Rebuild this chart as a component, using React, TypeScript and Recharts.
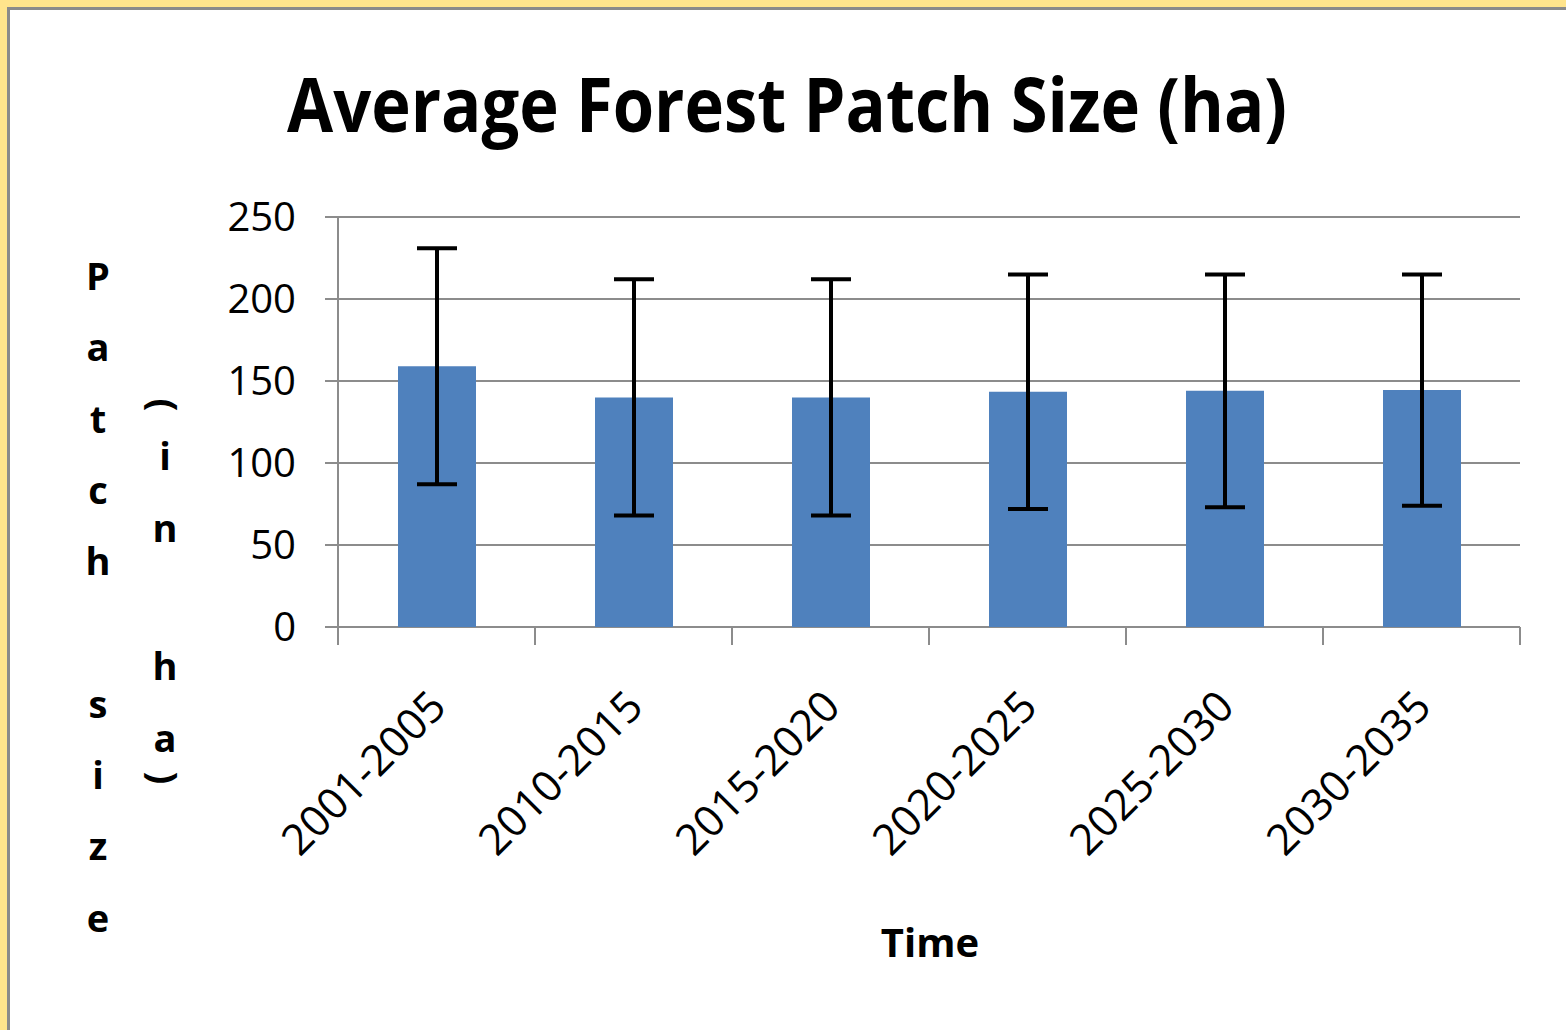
import { Bar, BarChart, CartesianGrid, ErrorBar, XAxis, YAxis } from 'recharts';

const periods = ['2001-2005', '2010-2015', '2015-2020', '2020-2025', '2025-2030', '2030-2035'];
const meanSize = [159, 140, 140, 143.5, 144, 144.5];
const errSize = [72, 72, 72, 71.5, 71, 70.5];
const yTicks = [0, 50, 100, 150, 200, 250];

const data = periods.map((period, i) => ({ period, mean: meanSize[i], err: errSize[i] }));

const FONT = '"Open Sans", "Noto Sans", sans-serif';
const GRID = '#8c8c8c';

// Excel puts the category tick marks between the bars, so draw them at band edges
function CategoryTick({ x, y, payload, index }: any) {
  const half = payload.offset || 0;
  const last = index === periods.length - 1;
  return (
    <g>
      <line x1={x - half} y1={y} x2={x - half} y2={y + 18} stroke={GRID} strokeWidth={2} />
      {last && <line x1={x + half} y1={y} x2={x + half} y2={y + 18} stroke={GRID} strokeWidth={2} />}
      <g transform={`translate(${x + 12},${y + 82}) rotate(-45)`}>
        <text x={0} y={0} textAnchor="end" fontSize={43} fontFamily={FONT} fill="#000">
          {payload.value}
        </text>
      </g>
    </g>
  );
}

// stacked letters of the y axis title, as Excel draws vertical text
const mainLetters = ['P', 'a', 't', 'c', 'h', '', 's', 'i', 'z', 'e'];
const unitLetters = [
  { ch: 'i', y: 470 },
  { ch: 'n', y: 542 },
  { ch: 'h', y: 680 },
  { ch: 'a', y: 752 },
];

export default function App() {
  return (
    <div style={{ position: 'absolute', left: 0, top: 0, width: 1566, height: 1030, background: '#ffe48c', overflow: 'hidden' }}>
      <div
        style={{
          position: 'absolute',
          left: 7,
          top: 7,
          right: 0,
          bottom: 0,
          background: '#fff',
          borderTop: '3px solid #8a8a8a',
          borderLeft: '3px solid #8a8a8a',
        }}
      />
      <div style={{ position: 'absolute', left: 0, top: 0 }}>
        <BarChart width={1566} height={1030} data={data} margin={{ top: 217, right: 46, left: 0, bottom: 103 }}>
          <CartesianGrid vertical={false} stroke={GRID} strokeWidth={2} />
          <XAxis
            dataKey="period"
            height={300}
            axisLine={false}
            tickLine={false}
            tickSize={0}
            tickMargin={0}
            interval={0}
            tick={<CategoryTick />}
          />
          <YAxis
            domain={[0, 250]}
            ticks={yTicks}
            width={338}
            tickSize={13}
            tickMargin={29}
            stroke={GRID}
            strokeWidth={2}
            tick={{ fontSize: 40, fontFamily: FONT, fill: '#000' }}
          />
          <Bar dataKey="mean" fill="#4f81bd" barSize={78} isAnimationActive={false}>
            <ErrorBar dataKey="err" width={20} strokeWidth={4} stroke="#000" />
          </Bar>
        </BarChart>
      </div>
      <svg width={1566} height={1030} style={{ position: 'absolute', left: 0, top: 0, pointerEvents: 'none' }}>
        <text
          x={787}
          y={132}
          textAnchor="middle"
          fontSize={76}
          fontWeight="bold"
          fontFamily={FONT}
          textLength={1000}
          lengthAdjust="spacingAndGlyphs"
          fill="#000"
        >
          Average Forest Patch Size (ha)
        </text>
        <text x={930} y={957} textAnchor="middle" fontSize={40} fontWeight="bold" fontFamily={FONT} fill="#000">
          Time
        </text>
        {mainLetters.map((ch, i) => (
          <text key={i} x={98} y={290 + i * 71.3} textAnchor="middle" fontSize={38} fontWeight="bold" fontFamily={FONT} fill="#000">
            {ch}
          </text>
        ))}
        <text x={0} y={0} transform="translate(165,405) rotate(90)" textAnchor="middle" dominantBaseline="central" fontSize={38} fontWeight="bold" fontFamily={FONT} fill="#000">
          (
        </text>
        {unitLetters.map((l, i) => (
          <text key={i} x={165} y={l.y} textAnchor="middle" fontSize={38} fontWeight="bold" fontFamily={FONT} fill="#000">
            {l.ch}
          </text>
        ))}
        <text x={0} y={0} transform="translate(165,778) rotate(90)" textAnchor="middle" dominantBaseline="central" fontSize={38} fontWeight="bold" fontFamily={FONT} fill="#000">
          )
        </text>
      </svg>
    </div>
  );
}
